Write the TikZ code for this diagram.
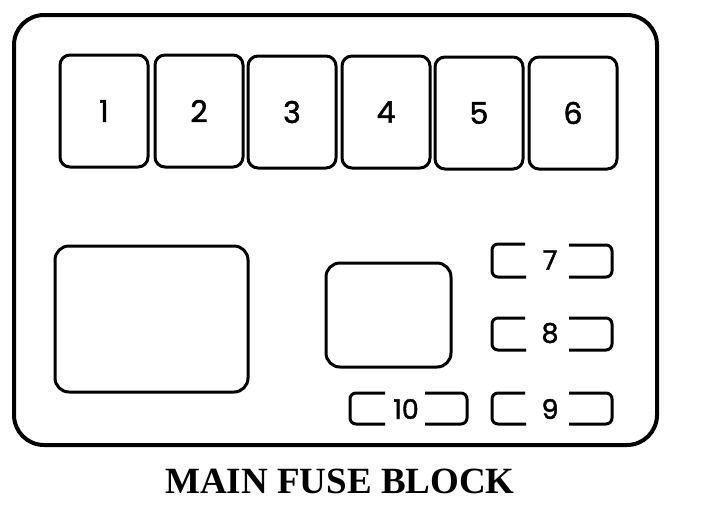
\documentclass[tikz,border=0pt]{standalone}
\usepackage{fontspec}
\setmainfont{Liberation Serif}
\newfontfamily\digitfont[FakeBold=1.6]{Poppins}
\begin{document}
\begin{tikzpicture}[x=1pt,y=-1pt,
  outerbox/.style={line width=4pt, rounded corners=30pt},
  fuse/.style={draw, line width=3pt, rounded corners=10pt, minimum width=88pt, minimum height=112pt, inner sep=0pt, font=\digitfont\fontsize{30}{30}\selectfont},
  slot/.style={draw, line width=3pt, rounded corners=14pt, inner sep=0pt},
  small/.style={inner sep=0pt, font=\digitfont\fontsize{27}{27}\selectfont},
  bracket/.style={line width=3pt, rounded corners=6pt},
  title/.style={font=\bfseries\fontsize{37}{37}\selectfont, inner sep=0pt}]
\useasboundingbox (0,0) rectangle (709,512);
\draw[outerbox] (14,15) rectangle (657,445);
\node[fuse] (f1) at (104,111) {1};
\node[fuse] (f2) at (199,111) {2};
\node[fuse] (f3) at (292,112) {3};
\node[fuse] (f4) at (386,112) {4};
\node[fuse] (f5) at (479,113) {5};
\node[fuse] (f6) at (573,113) {6};
\node[slot, minimum width=193pt, minimum height=146pt] (big) at (151.5,319) {};
\node[slot, minimum width=125pt, minimum height=104pt] (mid) at (388.5,315) {};
% small fuses
\node[small] (f7) at (550,260) {7};
\draw[bracket] (525,244) -- (492,244) -- (492,277) -- (526,277);
\draw[bracket] (569,245) -- (612,245) -- (612,277) -- (569,277);
\node[small] (f8) at (550,333) {8};
\draw[bracket] (525,318) -- (492,318) -- (492,350) -- (526,350);
\draw[bracket] (569,318) -- (612,318) -- (612,350) -- (569,350);
\node[small] (f9) at (550,409) {9};
\draw[bracket] (525,393) -- (492,393) -- (492,424) -- (526,424);
\draw[bracket] (569,393) -- (612,393) -- (612,424) -- (569,424);
\node[small] (f10) at (406,409) {10};
\draw[bracket] (385,393) -- (350,393) -- (350,424) -- (385,424);
\draw[bracket] (425,393) -- (467,393) -- (467,424) -- (425,424);
\node[title] (t) at (340,481) {MAIN FUSE BLOCK};
\end{tikzpicture}
\end{document}
